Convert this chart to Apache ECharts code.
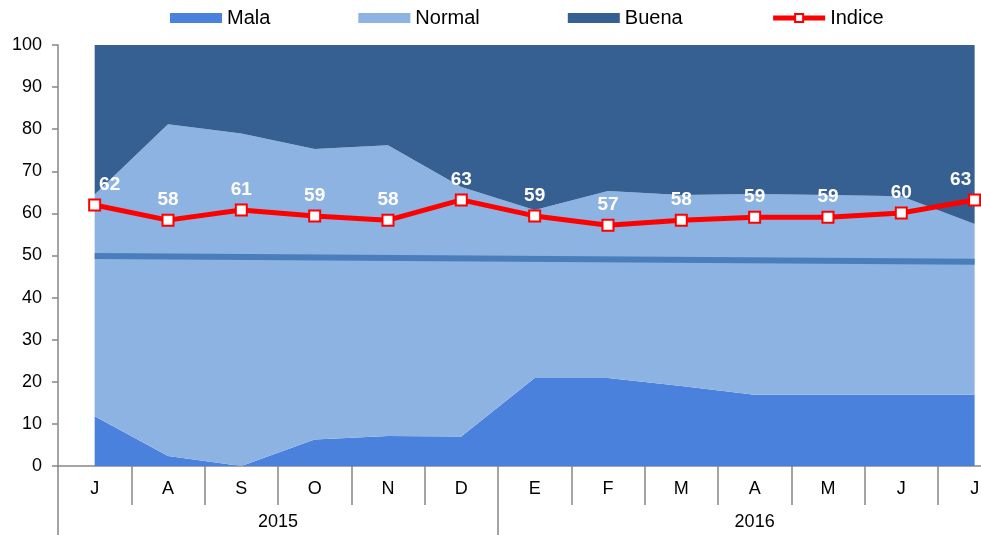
<!DOCTYPE html>
<html>
<head>
<meta charset="utf-8">
<script src="https://cdn.jsdelivr.net/npm/echarts@6/dist/echarts.min.js"></script>
<style>
html,body{margin:0;padding:0;background:#fff;}
#c{width:981px;height:535px;}
</style>
</head>
<body>
<div id="c"></div>
<script>
const months = ['J','A','S','O','N','D','E','F','M','A','M','J','J'];
const years = ['2015','2016'];
const yearSpans = [6, 7];
const mala   = [11.8, 2.4, 0, 6.3, 7.1, 7.0, 20.9, 20.9, 19.0, 16.9, 16.9, 16.9, 16.9];
const normal = [52.7, 78.8, 79.0, 69.0, 69.1, 59.3, 39.9, 44.4, 45.4, 47.7, 47.5, 47.2, 40.6];
const buena  = [35.5, 18.8, 21.0, 24.7, 23.8, 33.7, 39.2, 34.7, 35.6, 35.4, 35.6, 35.9, 42.5];
const indice = [62.0, 58.4, 60.8, 59.4, 58.4, 63.2, 59.4, 57.2, 58.4, 59.1, 59.1, 60.1, 63.2];
const trend  = [49.9, null, null, null, null, null, null, null, null, null, null, null, 48.5];

const FONT = '"Liberation Sans", Arial, sans-serif';
const chart = echarts.init(document.getElementById('c'), null, {renderer:'canvas'});

const bounds = [0];
yearSpans.forEach(s => bounds.push(bounds[bounds.length-1] + s));
const yearCenters = yearSpans.map((s,i) => bounds[i] + s/2);

const catW = 73.33;
const option = {
  animation: false,
  textStyle: {fontFamily: FONT},
  legend: {
    left: 165, top: 3,
    itemWidth: 52, itemHeight: 10, itemGap: 88,
    textStyle: {fontSize: 20, color: '#000', fontFamily: FONT},
    data: [
      {name: 'Mala', icon: 'rect', itemStyle: {color: '#4A81DC'}},
      {name: 'Normal', icon: 'rect', itemStyle: {color: '#8DB3E2'}},
      {name: 'Buena', icon: 'rect', itemStyle: {color: '#366092'}},
      {name: 'Indice', itemStyle: {color: '#FFFFFF', borderColor: '#FF0000', borderWidth: 2}, lineStyle: {width: 5, color: '#FF0000'}}
    ]
  },
  grid: {left: 58, top: 45, bottom: 69, right: 981 - 58 - catW * months.length, outerBoundsMode: 'none', containLabel: false},
  xAxis: [
    {
      type: 'category', data: months, boundaryGap: true, position: 'bottom',
      axisLine: {lineStyle: {color: '#868686', width: 1.5}},
      axisTick: {show: true, interval: 0, length: 39, lineStyle: {color: '#868686', width: 1.5}},
      axisLabel: {interval: 0, margin: 14, fontSize: 18, color: '#000', fontFamily: FONT},
      splitLine: {show: false}
    },
    {
      type: 'value', min: 0, max: bounds[bounds.length-1], position: 'bottom',
      axisLine: {show: false},
      axisTick: {show: true, customValues: bounds, length: 69, lineStyle: {color: '#868686', width: 1.5}},
      axisLabel: {customValues: yearCenters, margin: 47, fontSize: 18, color: '#000', fontFamily: FONT,
        formatter: v => { const i = yearCenters.indexOf(v); return i >= 0 ? years[i] : ''; }},
      splitLine: {show: false}
    }
  ],
  yAxis: {
    type: 'value', min: 0, max: 100, interval: 10,
    axisLine: {show: true, lineStyle: {color: '#868686', width: 1.5}},
    axisTick: {show: true, length: 6, lineStyle: {color: '#868686', width: 1.5}},
    axisLabel: {fontSize: 18, color: '#000', margin: 16, fontFamily: FONT},
    splitLine: {show: false}
  },
  series: [
    {name: 'Mala', type: 'line', stack: 'total', data: mala, symbol: 'none',
     lineStyle: {width: 0}, itemStyle: {color: '#4A81DC'}, areaStyle: {color: '#4A81DC', opacity: 1}, z: 1},
    {name: 'Normal', type: 'line', stack: 'total', data: normal, symbol: 'none',
     lineStyle: {width: 0}, itemStyle: {color: '#8DB3E2'}, areaStyle: {color: '#8DB3E2', opacity: 1}, z: 1},
    {name: 'Buena', type: 'line', stack: 'total', data: buena, symbol: 'none',
     lineStyle: {width: 0}, itemStyle: {color: '#366092'}, areaStyle: {color: '#366092', opacity: 1}, z: 1},
    {name: 'Tendencia', type: 'line', data: trend, connectNulls: true, symbol: 'none',
     lineStyle: {color: '#4A7EBB', width: 6}, itemStyle: {color: '#4A7EBB'}, z: 2, silent: true},
    {name: 'Indice', type: 'line', data: indice.map((v,i) => {
        const o = {value: v};
        if (i === 0) o.label = {offset: [15, 0]};
        if (i === indice.length - 1) o.label = {offset: [-14, 0]};
        return o;
      }),
     symbol: 'rect', symbolSize: 11,
     lineStyle: {color: '#FF0000', width: 5},
     itemStyle: {color: '#FFFFFF', borderColor: '#FF0000', borderWidth: 2},
     label: {show: true, position: 'top', distance: 4, color: '#FFFFFF', fontWeight: 'bold', fontSize: 19,
             fontFamily: FONT, formatter: p => Math.round(p.value)},
     z: 5}
  ]
};
chart.setOption(option);
</script>
</body>
</html>
